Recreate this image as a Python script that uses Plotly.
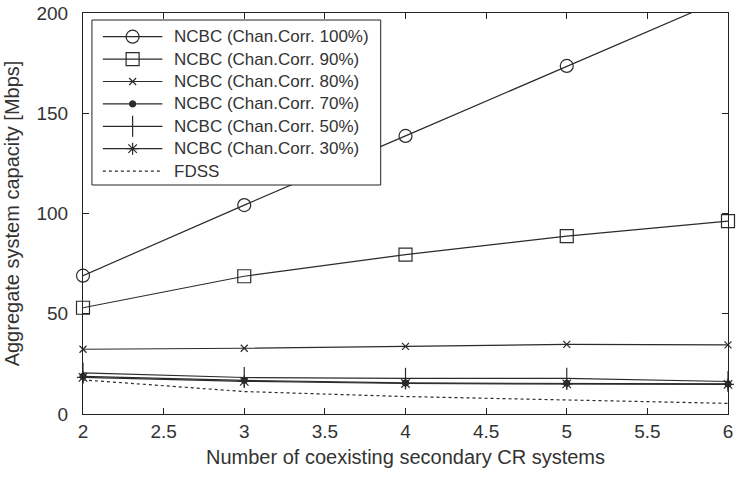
import plotly.graph_objects as go

# Number of coexisting secondary CR systems
n_systems = [2, 3, 4, 5, 6]

# Aggregate system capacity [Mbps] per scheme
ncbc_100 = [69.0, 104.2, 138.7, 173.6, 208.0]
ncbc_90 = [53.0, 68.7, 79.5, 88.7, 96.2]
ncbc_80 = [32.3, 32.8, 33.7, 34.7, 34.5]
ncbc_70 = [18.8, 16.8, 15.5, 15.3, 15.0]
ncbc_50 = [20.5, 18.2, 17.8, 17.8, 16.2]
ncbc_30 = [18.3, 16.3, 15.2, 15.0, 14.8]
fdss = [17.0, 11.2, 8.7, 7.0, 5.3]

series_names = [
    "NCBC (Chan.Corr. 100%)",
    "NCBC (Chan.Corr. 90%)",
    "NCBC (Chan.Corr. 80%)",
    "NCBC (Chan.Corr. 70%)",
    "NCBC (Chan.Corr. 50%)",
    "NCBC (Chan.Corr. 30%)",
    "FDSS",
]

x_ticks = [2, 2.5, 3, 3.5, 4, 4.5, 5, 5.5, 6]
x_tick_text = ["2", "2.5", "3", "3.5", "4", "4.5", "5", "5.5", "6"]
y_ticks = [0, 50, 100, 150, 200]

INK = "#2b2b2b"
TEXT = "#333333"
FONT = "Arial, Liberation Sans, sans-serif"

# marker style per NCBC curve (FDSS is a plain dashed line)
markers = [
    dict(symbol="circle-open", size=13),
    dict(symbol="square-open", size=13),
    dict(symbol="x-thin-open", size=7),
    dict(symbol="circle", size=6),
    dict(symbol="line-ns-open", size=15),
    dict(symbol="asterisk-open", size=10),
]
values = [ncbc_100, ncbc_90, ncbc_80, ncbc_70, ncbc_50, ncbc_30]

fig = go.Figure()
for name, vals, mk in zip(series_names, values, markers):
    fig.add_trace(go.Scatter(
        x=n_systems, y=vals, name=name, mode="lines+markers",
        line=dict(color=INK, width=1.2),
        marker=dict(color=INK, line=dict(color=INK, width=1.2), **mk),
        cliponaxis=False, showlegend=False,
    ))
fig.add_trace(go.Scatter(
    x=n_systems, y=fdss, name=series_names[-1], mode="lines",
    line=dict(color=INK, width=1.2, dash="3px,3px"), showlegend=False,
))

# ---- boxed legend, laid out in pixel units on an overlay axis pair ----
PLOT_L, PLOT_R, PLOT_T, PLOT_B = 83, 733, 13, 414
BOX_L, BOX_R, BOX_T, BOX_B = 92, 383, 20, 185
ROW0, ROW_GAP = 36.7, 22.4
SAMPLE_L, SAMPLE_R, TEXT_X = 103, 163, 173

fig.add_trace(go.Scatter(
    x=[BOX_L, BOX_R, BOX_R, BOX_L, BOX_L],
    y=[BOX_T, BOX_T, BOX_B, BOX_B, BOX_T],
    mode="lines", fill="toself", fillcolor="white",
    line=dict(color="#222222", width=1),
    xaxis="x2", yaxis="y2", showlegend=False, hoverinfo="skip",
))
sample_mid = (SAMPLE_L + SAMPLE_R) / 2
for i, name in enumerate(series_names):
    row = ROW0 + i * ROW_GAP
    if i < len(markers):
        fig.add_trace(go.Scatter(
            x=[SAMPLE_L, SAMPLE_R], y=[row, row], mode="lines",
            line=dict(color=INK, width=1.2),
            xaxis="x2", yaxis="y2", showlegend=False, hoverinfo="skip",
        ))
        fig.add_trace(go.Scatter(
            x=[sample_mid], y=[row], mode="markers",
            marker=dict(color=INK, line=dict(color=INK, width=1.2), **markers[i]),
            xaxis="x2", yaxis="y2", showlegend=False, hoverinfo="skip",
        ))
    else:
        fig.add_trace(go.Scatter(
            x=[SAMPLE_L, SAMPLE_R], y=[row, row], mode="lines",
            line=dict(color=INK, width=1.2, dash="3px,3px"),
            xaxis="x2", yaxis="y2", showlegend=False, hoverinfo="skip",
        ))
    fig.add_annotation(
        x=TEXT_X, y=row, xref="x2", yref="y2", text=name, showarrow=False,
        xanchor="left", yanchor="middle",
        font=dict(family=FONT, size=17, color=TEXT),
    )

axis_common = dict(
    showline=True, linecolor="#222222", linewidth=1, mirror="ticks",
    ticks="inside", ticklen=6, tickcolor="#222222", showgrid=False,
    zeroline=False, tickfont=dict(family=FONT, size=19, color=TEXT),
)

fig.update_layout(
    width=736, height=480,
    margin=dict(l=PLOT_L, r=736 - PLOT_R, t=PLOT_T, b=480 - PLOT_B),
    plot_bgcolor="white", paper_bgcolor="white",
    font=dict(family=FONT, color=TEXT),
    showlegend=False,
    xaxis=dict(
        range=[2, 6], tickvals=x_ticks, ticktext=x_tick_text,
        ticklabeloverflow="allow",
        title=dict(text="Number of coexisting secondary CR systems",
                   font=dict(family=FONT, size=20, color=TEXT), standoff=9),
        **axis_common,
    ),
    yaxis=dict(
        range=[0, 200], tickvals=y_ticks, ticklabelstandoff=10,
        title=dict(text="Aggregate system capacity [Mbps]",
                   font=dict(family=FONT, size=20, color=TEXT), standoff=11),
        **axis_common,
    ),
    xaxis2=dict(range=[PLOT_L, PLOT_R], overlaying="x", visible=False,
                fixedrange=True),
    yaxis2=dict(range=[PLOT_B, PLOT_T], overlaying="y", visible=False,
                fixedrange=True),
)

fig.write_html("out.html")
